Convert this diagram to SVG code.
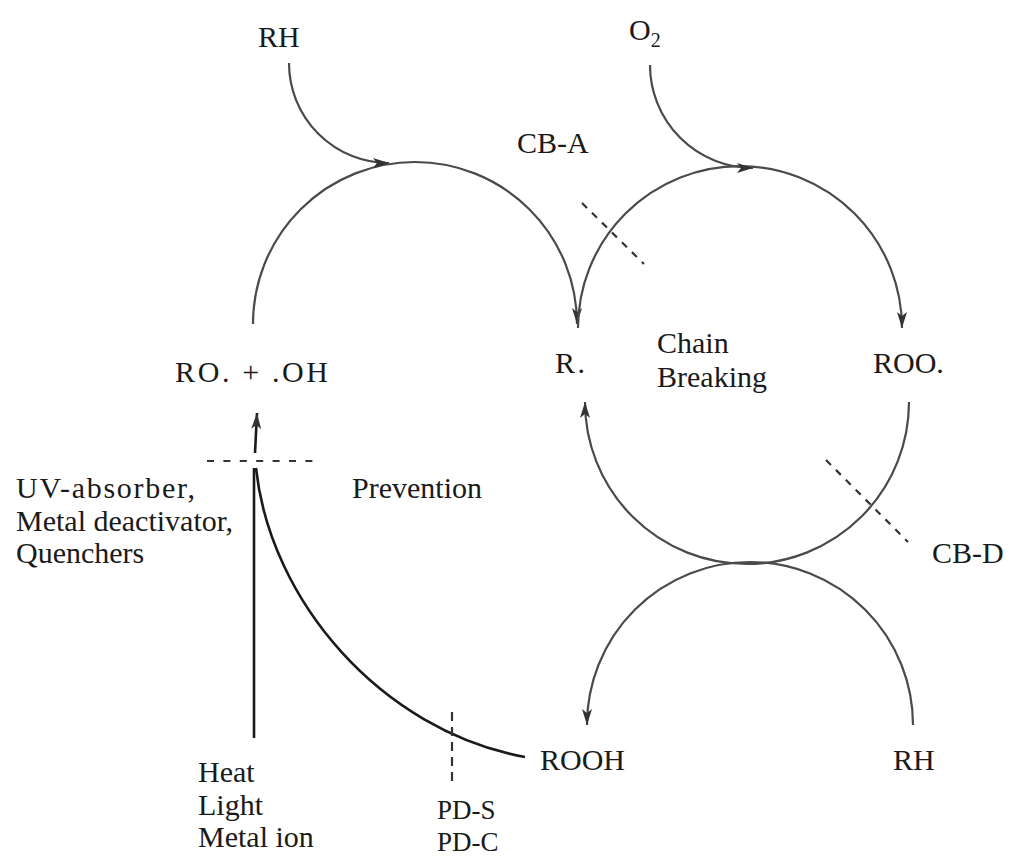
<svg xmlns="http://www.w3.org/2000/svg" width="1009" height="858" viewBox="0 0 1009 858">
<style>
text{font-family:"Liberation Serif","Times New Roman",serif;font-size:30px;fill:#1a1a1a}
.pd{font-size:27px}
.arc{fill:none;stroke:#4a4a4a;stroke-width:2.2}
.blk{fill:none;stroke:#1a1a1a;stroke-width:2.6}
.dash{fill:none;stroke:#333;stroke-width:2.2}
</style>
<defs>
<marker id="ah" markerUnits="userSpaceOnUse" markerWidth="18" markerHeight="12" refX="16" refY="5" orient="auto">
<path d="M0,0 L16,5 L0,10 L4,5 z" fill="#333"/>
</marker>
</defs>
<g id="connectors">
<path class="arc" d="M253,324 A162,162 0 0 1 577,324" marker-end="url(#ah)"/>
<path class="arc" d="M289,63 A100,100 0 0 0 389,163" marker-end="url(#ah)"/>
<path class="arc" d="M578,328 A161,161 0 0 1 902,328" marker-end="url(#ah)"/>
<path class="arc" d="M650,65 A103,103 0 0 0 753,168" marker-end="url(#ah)"/>
<path class="arc" d="M909,402 A162,162 0 0 1 585,402" marker-end="url(#ah)"/>
<path class="arc" d="M913,725 A163,163 0 0 0 587,725" marker-end="url(#ah)"/>
<path class="blk" d="M255,453 L257,413" marker-end="url(#ah)"/>
<path class="blk" d="M254,468 V738"/>
<path class="blk" d="M256,468 C270,600 380,730 525,757"/>
<path class="dash" d="M207,461 H313" stroke-dasharray="7 9.4"/>
<path class="dash" d="M452,712 V787" stroke-dasharray="9 6"/>
<path class="dash" d="M582,203 L644,264" stroke-dasharray="7 7"/>
<path class="dash" d="M826,460 L908,542" stroke-dasharray="7 7"/>
</g>
<g id="node-RH-top"><text x="258" y="47">RH</text></g>
<g id="node-O2"><text x="629" y="40">O<tspan font-size="20" dy="7">2</tspan></text></g>
<g id="label-CB-A"><text x="517" y="153">CB-A</text></g>
<g id="node-RO-OH"><text x="175" y="382" textLength="153" lengthAdjust="spacing">RO. + .OH</text></g>
<g id="node-R"><text x="555" y="373" textLength="30" lengthAdjust="spacing">R.</text></g>
<g id="label-chain"><text x="657" y="353">Chain</text><text x="657" y="387">Breaking</text></g>
<g id="node-ROO"><text x="873" y="373">ROO.</text></g>
<g id="label-prevention-agents"><text x="16" y="498" textLength="179" lengthAdjust="spacing">UV-absorber,</text><text x="16" y="531">Metal deactivator,</text><text x="16" y="563">Quenchers</text></g>
<g id="label-prevention"><text x="352" y="498">Prevention</text></g>
<g id="label-CB-D"><text x="932" y="563">CB-D</text></g>
<g id="node-ROOH"><text x="540" y="770">ROOH</text></g>
<g id="node-RH-bottom"><text x="893" y="770">RH</text></g>
<g id="label-sources"><text x="198" y="782">Heat</text><text x="198" y="815">Light</text><text x="198" y="847">Metal ion</text></g>
<g id="label-PD"><text class="pd" x="437" y="819">PD-S</text><text class="pd" x="437" y="851">PD-C</text></g>
</svg>
